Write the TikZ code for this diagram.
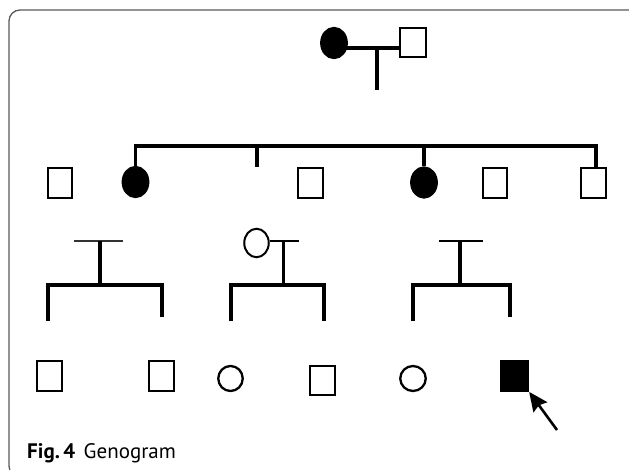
\documentclass[tikz,border=0pt]{standalone}
\usepackage{fontspec}
\setmainfont{PT Sans}
\usetikzlibrary{shapes.geometric,arrows.meta}
\begin{document}
\begin{tikzpicture}[x=1pt,y=-1pt,
  male/.style={draw, line width=2.3pt, rectangle, fill=white, inner sep=0pt,
               minimum width=24.5pt, minimum height=29.5pt},
  female/.style={draw, line width=2.3pt, ellipse, fill=white, inner sep=0pt,
               minimum width=24.5pt, minimum height=28.5pt},
  affected/.style={fill=black},
  link/.style={line width=3.2pt, line join=miter},
  thinlink/.style={line width=2.4pt, draw=black!80},
  frame/.style={draw=black!65, line width=1.3pt, rounded corners=11pt}]
\useasboundingbox (0,0) rectangle (629,470);

% outer frame
\draw[frame] (40,477) -- (9,477) -- (9,10) -- (629,10);

% grandparents
\node[female, affected, minimum width=25.5pt, minimum height=30pt] (gm) at (334,43) {};
\node[male, minimum width=25.5pt, minimum height=28.5pt] (gf) at (413,42.5) {};
\coordinate (m0) at (377,48);
\coordinate (m1) at (377,90);
\draw[link] (gm |- m0) -- (gf.west |- m0);
\draw[link] (m0) -- (m1);

% second generation
\node[male] (a) at (60,183) {};
\node[female, affected, minimum width=25.5pt, minimum height=30pt] (b) at (135.5,182) {};
\node[male] (c) at (310.5,183) {};
\node[female, affected, minimum width=25.5pt, minimum height=30pt] (d) at (424,182.5) {};
\node[male] (e) at (495,183) {};
\node[male] (f) at (593.5,183) {};
\coordinate (s0) at (135.5,146);
\coordinate (s1) at (596,146);
\coordinate (t0) at (257,146);
\coordinate (t1) at (257,167);
\draw[link] (b.north) |- (s1) -- (s1 |- f.north);
\draw[link] (t0) -- (t1);
\draw[link] (d.north) -- (d.north |- s0);

% third generation: couple 1
\coordinate (g1a) at (74,241);
\coordinate (g1b) at (123,241);
\coordinate (g1m) at (100,241);
\coordinate (g1j) at (100,285);
\coordinate (g1l) at (48,321);
\coordinate (g1r) at (162,285);
\coordinate (g1rb) at (162,317);
\draw[thinlink] (g1a) -- (g1b);
\draw[link] (g1m) -- (g1j);
\draw[link] (g1l) |- (g1r) -- (g1rb);

% third generation: couple 2
\node[female, line width=2pt, minimum width=24.5pt, minimum height=28.5pt] (w) at (256.5,243) {};
\coordinate (g2b) at (299,241);
\coordinate (g2m) at (283.5,241);
\coordinate (g2j) at (283.5,285);
\coordinate (g2l) at (231,321);
\coordinate (g2r) at (324,285);
\coordinate (g2rb) at (324,321);
\draw[link, line width=2.8pt] (w.east |- g2b) -- (g2b);
\draw[link] (g2m) -- (g2j);
\draw[link] (g2l) |- (g2r) -- (g2rb);

% third generation: couple 3
\coordinate (g3a) at (439,241);
\coordinate (g3b) at (483,241);
\coordinate (g3m) at (460,241);
\coordinate (g3j) at (460,285);
\coordinate (g3l) at (413,321);
\coordinate (g3r) at (510,285);
\coordinate (g3rb) at (510,317);
\draw[link, line width=2.8pt] (g3a) -- (g3b);
\draw[link] (g3m) -- (g3j);
\draw[link] (g3l) |- (g3r) -- (g3rb);

% fourth generation
\node[male] (p1) at (49.5,376) {};
\node[male] (p2) at (161.5,376) {};
\node[female, minimum width=24.5pt, minimum height=25pt] (p3) at (230.5,378.5) {};
\node[male, minimum height=28.5pt] (p4) at (322.5,380.5) {};
\node[female, minimum width=25.5pt, minimum height=25pt] (p5) at (413,378.5) {};
\node[male, affected, minimum width=27pt] (p6) at (514.5,376) {};

% proband arrow
\coordinate (arr) at (557,430);
\draw[line width=2.6pt, -{Stealth[length=19pt, width=17pt, inset=2.5pt]}] (arr) -- (p6.south east);

% caption
\node[anchor=base west, inner sep=0pt, font=\fontsize{21}{24}\selectfont] (cap) at (27,458)
  {\textbf{Fig.\,4}\hspace{0.4em}Genogram};
\end{tikzpicture}
\end{document}
